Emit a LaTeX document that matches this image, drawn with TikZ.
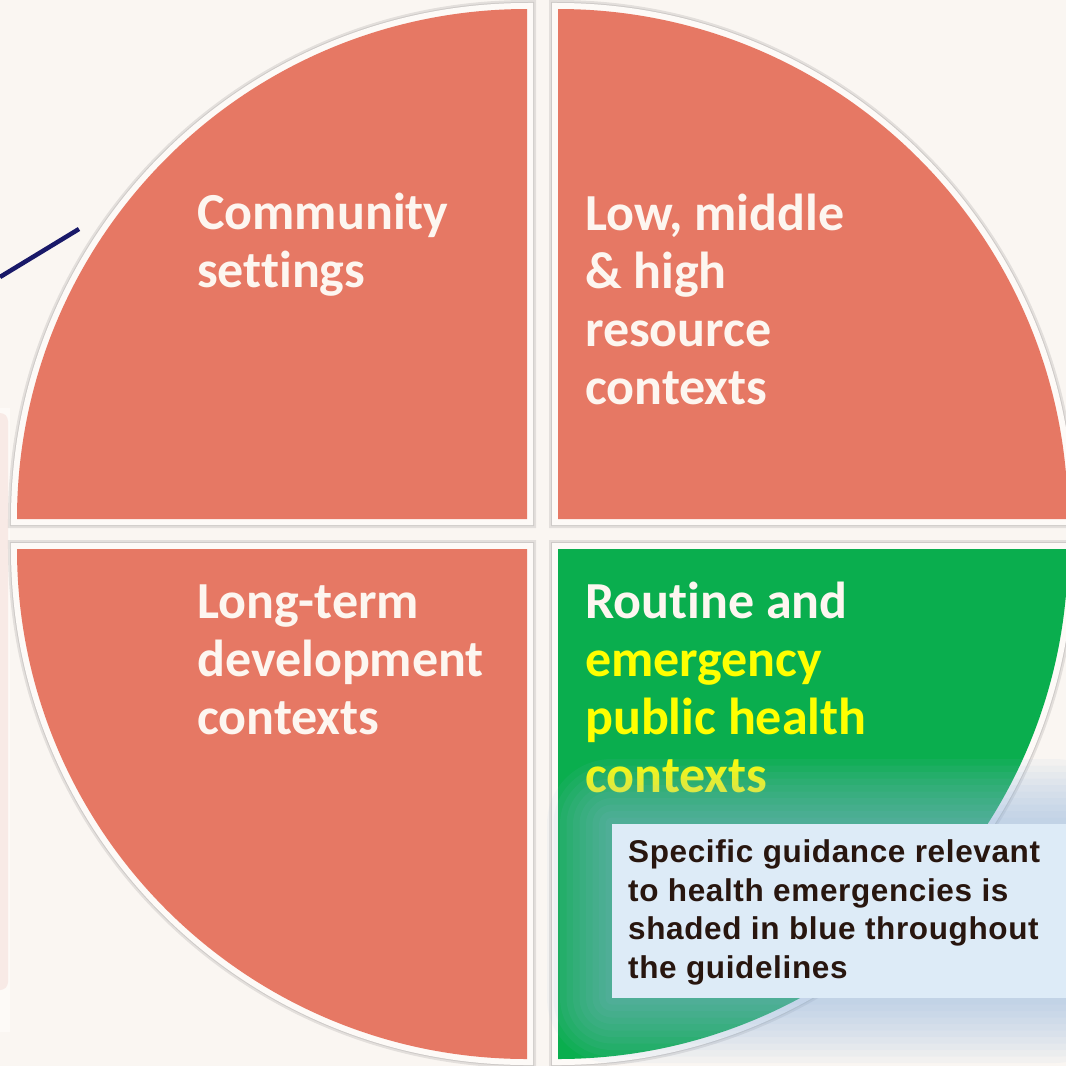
\documentclass[tikz,border=0pt]{standalone}
\usepackage{fontspec}
\newfontfamily\quadfont{Carlito}[Ligatures=CommonOff]
\newfontfamily\notefont{Liberation Sans}[LetterSpace=2]
\usetikzlibrary{positioning}
\definecolor{bgcream}{RGB}{250,246,242}
\definecolor{salmon}{RGB}{230,120,100}
\definecolor{leafgreen}{RGB}{10,174,78}
\definecolor{edgewhite}{RGB}{253,250,247}
\definecolor{softwhite}{RGB}{253,246,240}
\definecolor{hiyellow}{RGB}{255,255,0}
\definecolor{noteblue}{RGB}{221,235,247}
\definecolor{glowblue}{RGB}{150,185,225}
\definecolor{notebrown}{RGB}{40,22,15}
\definecolor{navy}{RGB}{25,25,105}
\definecolor{pinkside}{RGB}{248,234,230}
\newcommand{\quadrad}{510}
\newcommand{\quadpath}[3]{(#1) -- ++(#2:\quadrad) arc (#2:#3:\quadrad) -- cycle}
\tikzset{
  quadshadow/.style={draw=black, line width=#1, opacity=0.09, shift={(0.5,-3)}},
  quadedge/.style={preaction={draw=edgewhite, line width=12pt}},
  quadtext/.style={anchor=base west, inner sep=0pt, align=left, text=softwhite,
    font=\quadfont\bfseries\fontsize{52}{58}\selectfont},
  notetext/.style={anchor=base west, inner sep=0pt, align=left, text=notebrown,
    font=\notefont\bfseries\fontsize{31.5}{38.5}\selectfont},
  pointer/.style={draw=navy, line width=4.5pt}
}
\begin{document}
\begin{tikzpicture}[x=1pt,y=1pt]
  \clip (0,0) rectangle (1066,-1066);
  \fill[bgcream] (0,0) rectangle (1066,-1066);
  % side panel on the left
  \fill[edgewhite] (0,-408) rectangle (10,-1032);
  \fill[pinkside, rounded corners=8pt] (-10,-413) rectangle (8,-990);
  \coordinate (ptrend) at (0,-277);
  \coordinate (ptrtip) at (79,-229);
  \draw[pointer] (ptrend) -- (ptrtip);
  % quadrant corners
  \coordinate (tlc) at (527,-519);
  \coordinate (trc) at (558,-519);
  \coordinate (blc) at (527,-549);
  \coordinate (brc) at (558,-549);
  \foreach \c/\a/\b in {tlc/180/90, trc/0/90, blc/180/270, brc/0/-90} {
    \draw[quadshadow=18pt] \quadpath{\c}{\a}{\b};
    \draw[quadshadow=14pt] \quadpath{\c}{\a}{\b};
  }
  \foreach \c/\a/\b/\col in {tlc/180/90/salmon, trc/0/90/salmon, blc/180/270/salmon, brc/0/-90/leafgreen} {
    \fill[quadedge, fill=\col] \quadpath{\c}{\a}{\b};
  }
  % labels (anchored at the last baseline)
  \node[quadtext] (tltext) at (197,-287) {Community\\settings};
  \node[quadtext] (trtext) at (585,-404) {Low, middle\\\& high\\resource\\contexts};
  \node[quadtext] (bltext) at (197,-734) {Long-term\\development\\contexts};
  \node[quadtext] (brtext) at (585,-792) {Routine and\\\textcolor{hiyellow}{emergency}\\
    \textcolor{hiyellow}{public health}\\\textcolor{hiyellow}{contexts}};
  % blue glow round the note
  \foreach \i in {1,...,10} {
    \pgfmathsetmacro\gr{\i*6.5}
    \fill[glowblue, opacity=0.07, rounded corners=\gr pt]
      (612-\gr,-824+\gr) rectangle (1120,-998-\gr);
  }
  \node[fill=noteblue, anchor=north west, inner sep=0pt, minimum width=470pt,
    minimum height=174pt] (note) at (612,-824) {};
  \node[notetext] (notetxt) at (628,-978) {Specific guidance relevant\\to health emergencies is\\
    shaded in blue throughout\\the guidelines};
\end{tikzpicture}
\end{document}
